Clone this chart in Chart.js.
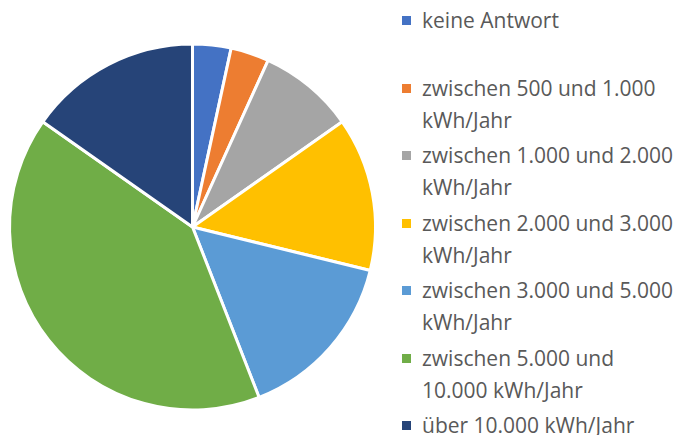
<!DOCTYPE html>
<html>
<head>
<meta charset="utf-8">
<script src="https://cdn.jsdelivr.net/npm/chart.js@4"></script>
<style>
  html, body { margin: 0; padding: 0; background: #fff; }
  #wrap { position: relative; width: 679px; height: 435px; overflow: hidden; }
  #chartBox { position: absolute; left: 0; top: 0; width: 385px; height: 435px; }
  #legend { position: absolute; left: 401px; top: 0; font-family: "Open Sans", sans-serif; font-size: 21px; color: #595959; }
  .item { position: absolute; left: 0; white-space: nowrap; line-height: 32px; }
  .box { position: absolute; left: 1px; top: 12px; width: 9px; height: 9px; }
  .txt { position: absolute; left: 21px; top: 0; }
</style>
</head>
<body>
<div id="wrap">
  <div id="chartBox"><canvas id="pie"></canvas></div>
  <div id="legend"></div>
</div>
<script>
// Data
const categories = [
  ['keine Antwort'],
  ['zwischen 500 und 1.000', 'kWh/Jahr'],
  ['zwischen 1.000 und 2.000', 'kWh/Jahr'],
  ['zwischen 2.000 und 3.000', 'kWh/Jahr'],
  ['zwischen 3.000 und 5.000', 'kWh/Jahr'],
  ['zwischen 5.000 und', '10.000 kWh/Jahr'],
  ['über 10.000 kWh/Jahr']
];
const counts = [2, 2, 5, 8, 9, 24, 9];
const colors = ['#4472C4', '#ED7D31', '#A5A5A5', '#FFC000', '#5B9BD5', '#70AD47', '#264478'];

// Pie chart
const ctx = document.getElementById('pie').getContext('2d');
new Chart(ctx, {
  type: 'pie',
  data: {
    labels: categories,
    datasets: [{
      data: counts,
      backgroundColor: colors,
      borderColor: '#ffffff',
      borderWidth: 3
    }]
  },
  options: {
    responsive: true,
    maintainAspectRatio: false,
    animation: false,
    radius: 183,
    layout: { padding: { top: 19, left: 0, right: 0, bottom: 0 } },
    plugins: {
      legend: { display: false },
      tooltip: { enabled: false }
    }
  }
});

// Legend (HTML, two-line items)
const legend = document.getElementById('legend');
categories.forEach((lines, i) => {
  const item = document.createElement('div');
  item.className = 'item';
  item.style.top = (4 + i * 67.5) + 'px';
  const box = document.createElement('div');
  box.className = 'box';
  box.style.background = colors[i];
  const txt = document.createElement('div');
  txt.className = 'txt';
  txt.innerHTML = lines.join('<br>');
  item.appendChild(box);
  item.appendChild(txt);
  legend.appendChild(item);
});
</script>
</body>
</html>
